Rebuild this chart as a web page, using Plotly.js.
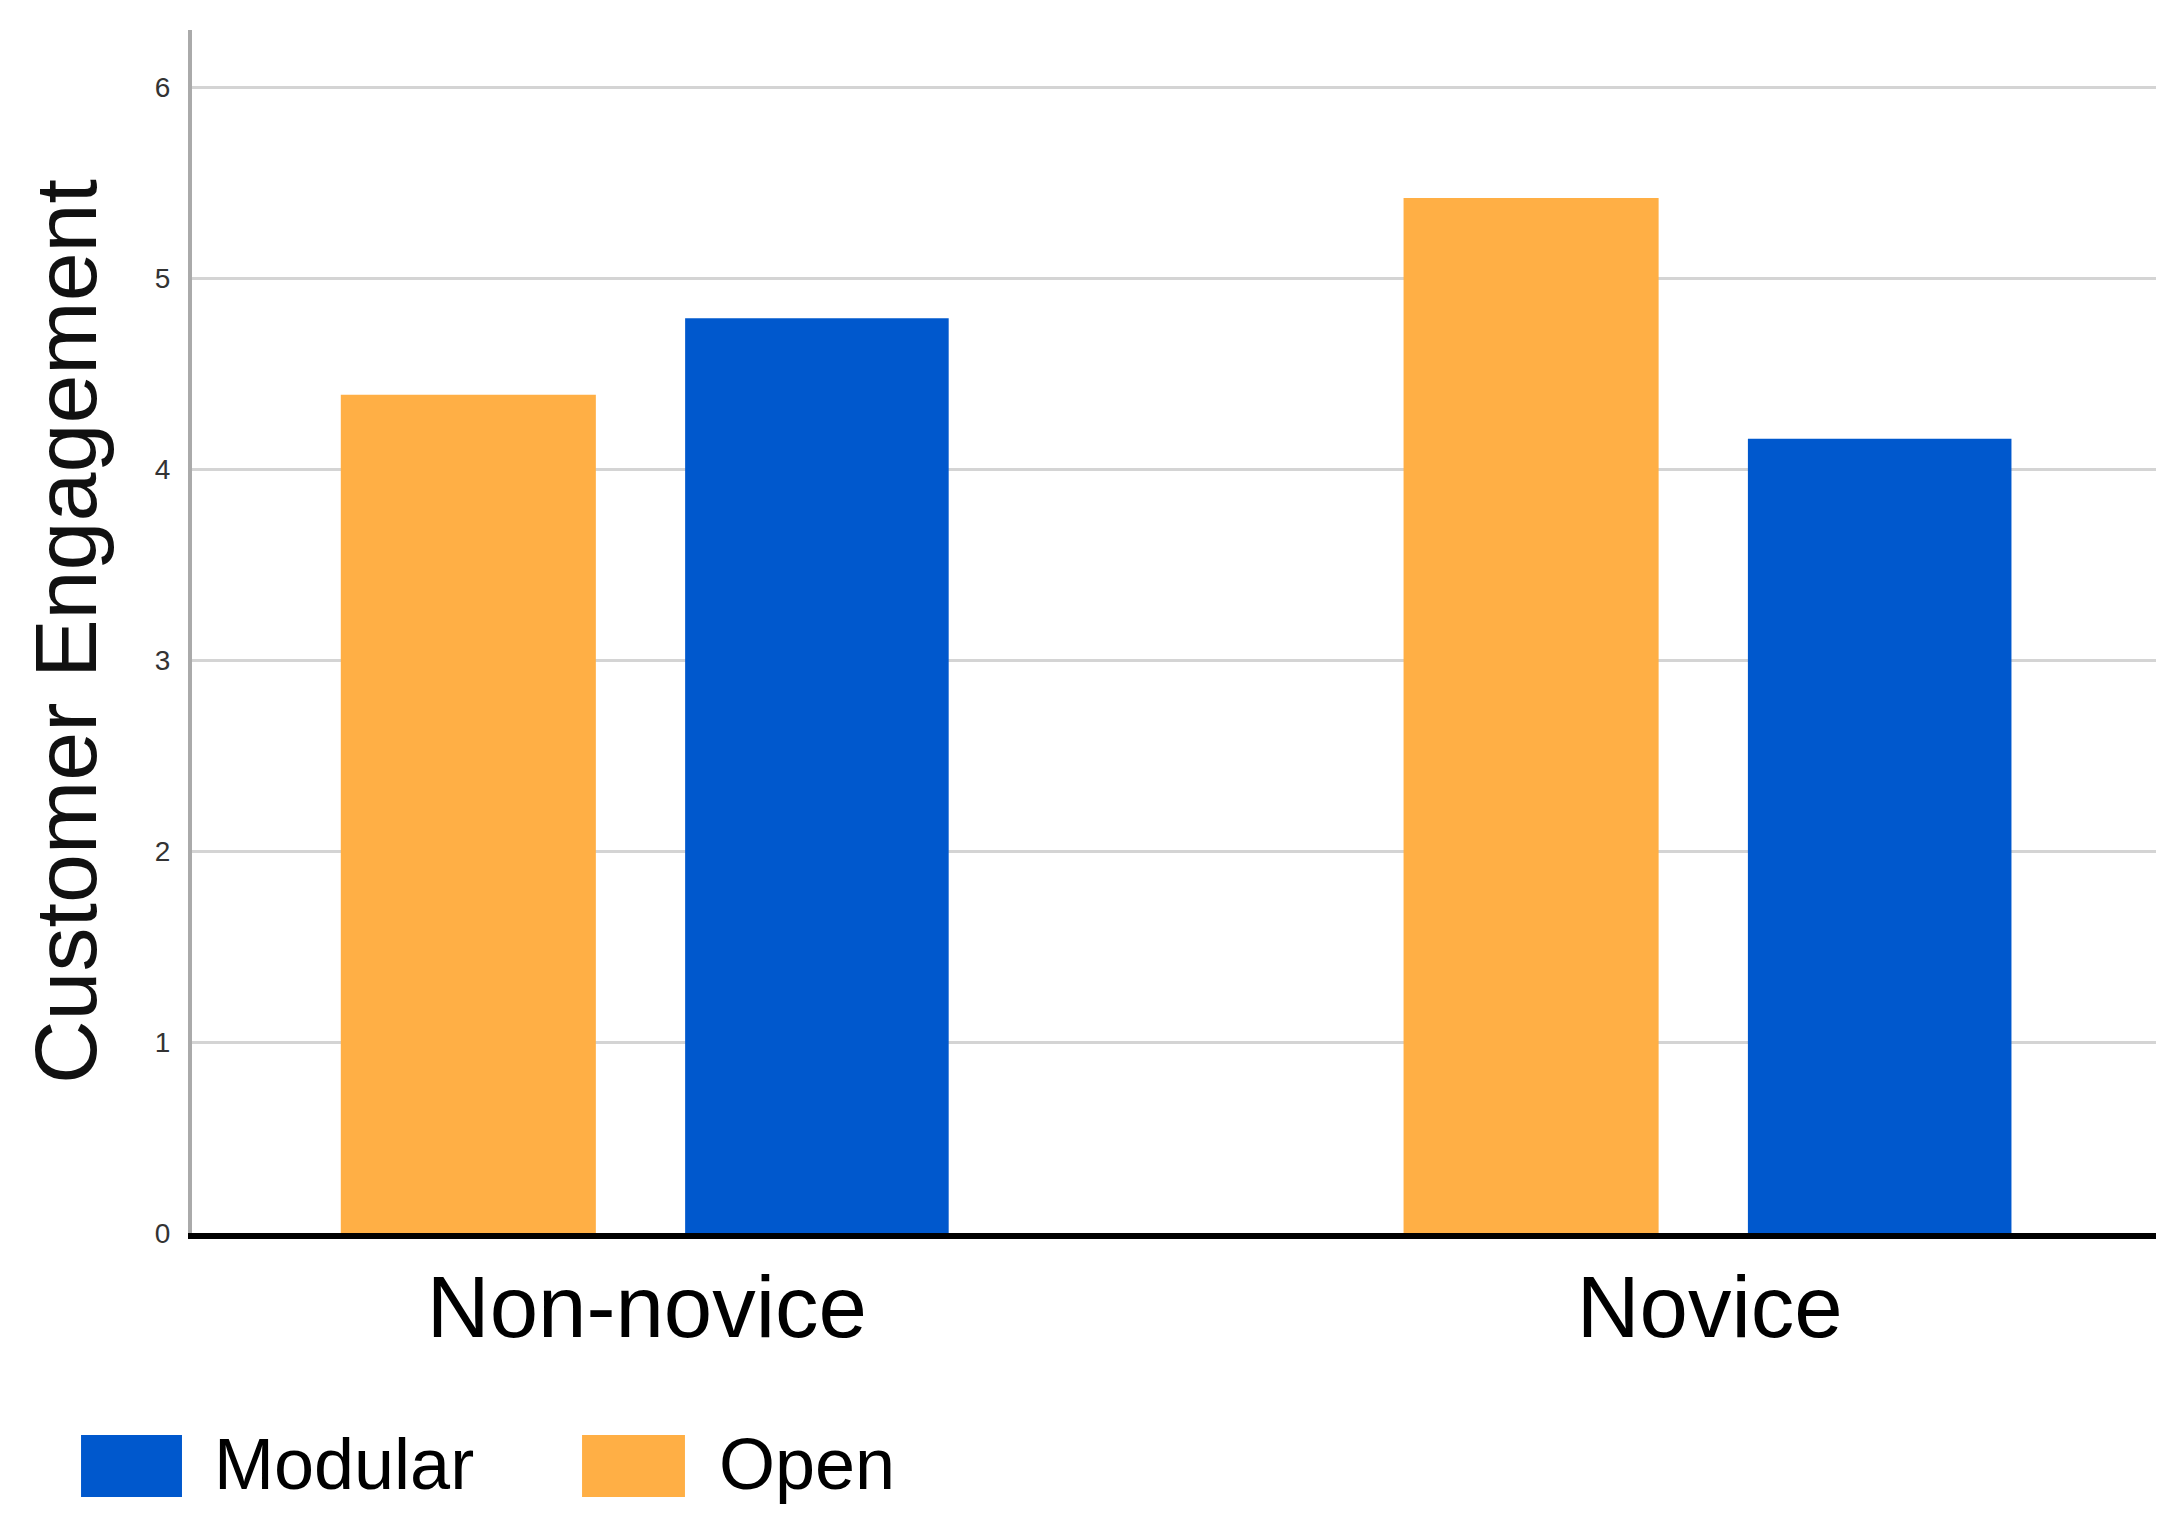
<!DOCTYPE html>
<html>
<head>
<meta charset="utf-8">
<script src="https://cdn.plot.ly/plotly-3.0.1.min.js"></script>
<style>html,body{margin:0;padding:0;background:#fff;}#chart{width:2184px;height:1533px;}</style>
</head>
<body>
<div id="chart"></div>
<script>
const categories = ['Non-novice', 'Novice'];
const openValues = [4.39, 5.42];
const modularValues = [4.79, 4.16];
const seriesNames = ['Modular', 'Open'];
const yTickValues = [0, 1, 2, 3, 4, 5, 6];
const yTitle = 'Customer Engagement';

const BLUE = '#0058CD';
const ORANGE = '#FFAF45';
const FONT = 'Liberation Sans, Arial, sans-serif';

const traces = [
  {
    type: 'bar', name: seriesNames[1], x: categories, y: openValues,
    marker: {color: ORANGE, line: {width: 0}},
    width: 0.240, offset: -0.288, showlegend: false, hoverinfo: 'x+y+name'
  },
  {
    type: 'bar', name: seriesNames[0], x: categories, y: modularValues,
    marker: {color: BLUE, line: {width: 0}},
    width: 0.248, offset: 0.036, showlegend: false, hoverinfo: 'x+y+name'
  }
];

// legend drawn as large swatches + labels (paper coordinates)
const legendItems = [
  {name: seriesNames[0], color: BLUE, x0: -0.0565, x1: -0.0051, tx: 0.0102},
  {name: seriesNames[1], color: ORANGE, x0: 0.1986, x1: 0.2510, tx: 0.2673}
];
const shapes = legendItems.map(it => ({
  type: 'rect', xref: 'paper', yref: 'paper',
  x0: it.x0, x1: it.x1, y0: -0.2195, y1: -0.1679,
  fillcolor: it.color, line: {width: 0}
}));
const annotations = legendItems.map(it => ({
  xref: 'paper', yref: 'paper', x: it.tx, y: -0.192,
  xanchor: 'left', yanchor: 'middle', showarrow: false,
  text: it.name, font: {family: FONT, size: 72, color: '#000'}
}));

const layout = {
  width: 2184, height: 1533,
  margin: {l: 192, r: 28, t: 30, b: 300},
  paper_bgcolor: '#fff', plot_bgcolor: '#fff',
  barmode: 'group',
  showlegend: false,
  xaxis: {
    type: 'category',
    range: [-0.428, 1.42],
    showgrid: false, zeroline: false,
    showline: true, linecolor: '#000', linewidth: 6,
    ticks: '', ticklabelstandoff: -6,
    tickfont: {family: FONT, size: 87, color: '#000'}
  },
  yaxis: {
    range: [0, 6.3],
    tickvals: yTickValues,
    ticktext: yTickValues.map(String),
    showgrid: true, gridcolor: '#d4d4d4', gridwidth: 3,
    zeroline: false,
    showline: true, linecolor: '#aaaaaa', linewidth: 4,
    ticks: '', ticklabelstandoff: 12,
    tickfont: {family: FONT, size: 28, color: '#333'},
    title: {text: yTitle, standoff: 30, font: {family: FONT, size: 88, color: '#111'}}
  },
  shapes: shapes,
  annotations: annotations
};

Plotly.newPlot('chart', traces, layout, {displayModeBar: false, staticPlot: true});
</script>
</body>
</html>
